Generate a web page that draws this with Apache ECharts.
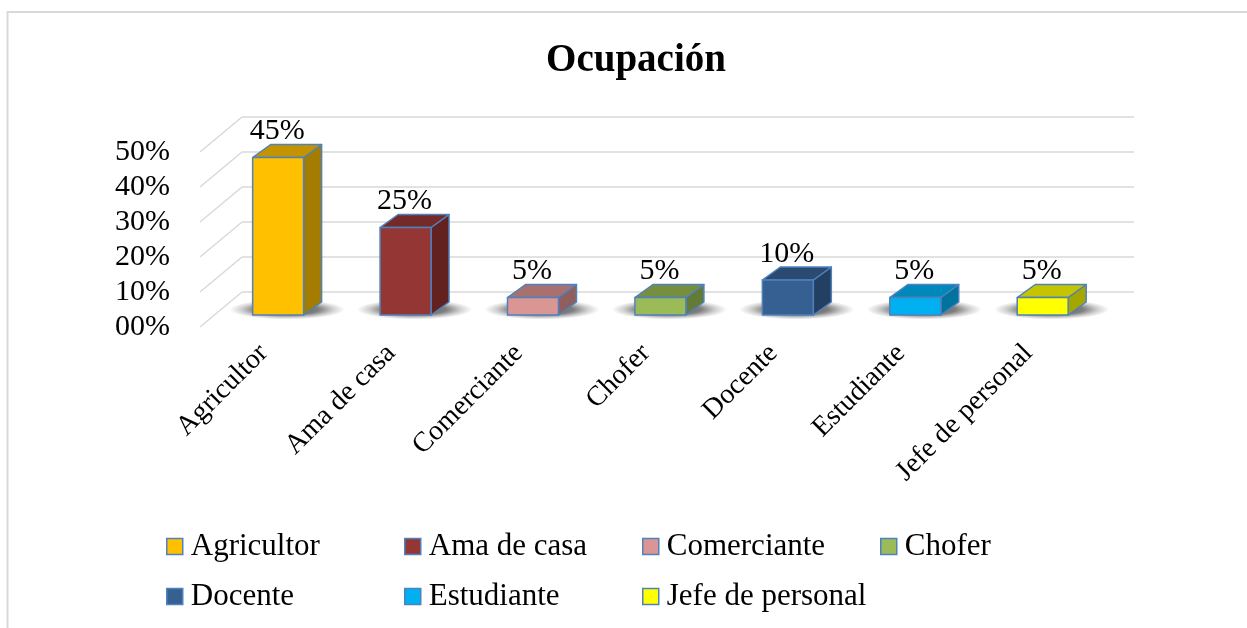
<!DOCTYPE html>
<html>
<head>
<meta charset="utf-8">
<script src="https://cdn.jsdelivr.net/npm/echarts@6/dist/echarts.min.js"></script>
<style>html,body{margin:0;padding:0;background:#fff;}#c{width:1247px;height:628px;}</style>
</head>
<body>
<div id="c"></div>
<script>
const categories = ['Agricultor', 'Ama de casa', 'Comerciante', 'Chofer', 'Docente', 'Estudiante', 'Jefe de personal'];
const values = [45, 25, 5, 5, 10, 5, 5];
const yTicks = [0, 10, 20, 30, 40, 50];
const frontColors = ['#FFC000', '#943634', '#DA9694', '#9BBB59', '#366092', '#00B0F0', '#FFFF00'];
const topColors   = ['#C49400', '#742A29', '#A8706E', '#768F3F', '#2A4A71', '#0088BA', '#C4C400'];
const sideColors  = ['#A47C00', '#62221F', '#8E5F5D', '#647B38', '#233F61', '#00739E', '#A6A600'];

// layout (pixels)
const BACK_LEFT = 242, BACK_TOP = 117, PLOT_W = 892, PLOT_H = 175;
const WALL_DX = 42, WALL_DY = 35, BAR_FRAC = 0.343, BAR_DX = 18, BAR_DY = 13;
const FRONT_LEFT = BACK_LEFT - WALL_DX, FRONT_TOP = BACK_TOP + WALL_DY;
const BAR_LEFT = FRONT_LEFT + BAR_FRAC * WALL_DX, BAR_TOP = FRONT_TOP - BAR_FRAC * WALL_DY;
const LEGEND_COLS = [166, 404, 642, 880], LEGEND_ROWS = [531, 581];
const FONT = '"Liberation Serif", "Times New Roman", serif';
const EDGE = '#4F81BD';

const chart = echarts.init(document.getElementById('c'), null, {renderer: 'canvas'});

function hiddenAxis(extra) {
  return Object.assign({
    axisLine: {show: false}, axisTick: {show: false}, axisLabel: {show: false}, splitLine: {show: false}
  }, extra);
}

function barRenderer(k) {
  return function (params, api) {
    const i = api.value(0), v = api.value(1);
    const base = api.coord([i, 0]);
    const top = api.coord([i, v]);
    const bw = api.size([1, 0])[0] * 0.4;
    const x0 = base[0] - bw / 2, x1 = base[0] + bw / 2, yB = base[1], yT = top[1];
    const stroke = {stroke: EDGE, lineWidth: 1.5, lineJoin: 'round'};
    const rx = bw / 2 + 32, ry = 10;
    return {
      type: 'group',
      children: [
        {
          type: 'circle',
          x: base[0] + BAR_DX / 2, y: yB - BAR_DY / 2 + 1,
          scaleX: rx / 10, scaleY: ry / 10,
          shape: {cx: 0, cy: 0, r: 10},
          style: {
            fill: new echarts.graphic.RadialGradient(0.5, 0.5, 0.5, [
              {offset: 0, color: 'rgba(0,0,0,0.65)'},
              {offset: 0.55, color: 'rgba(0,0,0,0.5)'},
              {offset: 0.8, color: 'rgba(0,0,0,0.18)'},
              {offset: 1, color: 'rgba(0,0,0,0)'}
            ])
          }
        },
        {
          type: 'polygon',
          shape: {points: [[x1, yT], [x1 + BAR_DX, yT - BAR_DY], [x1 + BAR_DX, yB - BAR_DY], [x1, yB]]},
          style: Object.assign({fill: sideColors[k]}, stroke)
        },
        {
          type: 'polygon',
          shape: {points: [[x0, yT], [x0 + BAR_DX, yT - BAR_DY], [x1 + BAR_DX, yT - BAR_DY], [x1, yT]]},
          style: Object.assign({fill: topColors[k]}, stroke)
        },
        {
          type: 'rect',
          shape: {x: x0, y: yT, width: bw, height: yB - yT},
          style: Object.assign({fill: frontColors[k]}, stroke)
        },
        {
          type: 'text',
          x: base[0] - 1, y: yT - 11,
          style: {text: v + '%', align: 'center', verticalAlign: 'bottom', fill: '#000', font: '30px ' + FONT}
        }
      ]
    };
  };
}

const barSeries = categories.map((name, k) => ({
  type: 'custom',
  name: name,
  xAxisIndex: 0, yAxisIndex: 0,
  itemStyle: {color: frontColors[k], borderColor: EDGE, borderWidth: 1.5},
  renderItem: barRenderer(k),
  data: [[k, values[k]]],
  z: 10
}));

const wallSeries = {
  type: 'custom',
  name: 'wall',
  xAxisIndex: 2, yAxisIndex: 2,
  silent: true,
  renderItem: function (params, api) {
    const p = api.coord([0, api.value(1)]);
    const x = params.coordSys.x;
    return {
      type: 'line',
      shape: {x1: x - WALL_DX, y1: p[1] + WALL_DY, x2: x, y2: p[1]},
      style: {stroke: '#D9D9D9', lineWidth: 1.5}
    };
  },
  data: yTicks.map(t => [0, t]),
  z: 1
};

const legends = categories.map((name, k) => ({
  orient: 'horizontal', icon: 'rect', itemWidth: 16, itemHeight: 16, itemGap: 0, padding: 0,
  itemStyle: {borderColor: EDGE, borderWidth: 1.5},
  textStyle: {fontFamily: FONT, fontSize: 31, color: '#000', padding: [0, 0, 0, 3]},
  selectedMode: false,
  left: LEGEND_COLS[k % 4], top: LEGEND_ROWS[Math.floor(k / 4)],
  data: [name]
}));

chart.setOption({
  animation: false,
  backgroundColor: '#fff',
  title: {
    text: 'Ocupación', left: 631, top: 36, textAlign: 'center',
    textStyle: {fontFamily: FONT, fontSize: 39, fontWeight: 'bold', color: '#000'}
  },
  graphic: [{
    type: 'rect', shape: {x: 7.5, y: 12, width: 1300, height: 700},
    style: {fill: 'none', stroke: '#D9D9D9', lineWidth: 2}, silent: true, z: -10
  }],
  grid: [
    {left: BAR_LEFT, top: BAR_TOP, width: PLOT_W, height: PLOT_H},
    {left: FRONT_LEFT, top: FRONT_TOP, width: PLOT_W, height: PLOT_H},
    {left: BACK_LEFT, top: BACK_TOP, width: PLOT_W, height: PLOT_H}
  ],
  xAxis: [
    hiddenAxis({type: 'category', data: categories, gridIndex: 0}),
    {
      type: 'category', data: categories, gridIndex: 1,
      axisLine: {show: false}, axisTick: {show: false}, splitLine: {show: false},
      axisLabel: {rotate: 45, margin: 22, fontFamily: FONT, fontSize: 28, color: '#000', interval: 0}
    },
    hiddenAxis({type: 'category', data: categories, gridIndex: 2})
  ],
  yAxis: [
    hiddenAxis({type: 'value', min: 0, max: 50, interval: 10, gridIndex: 0}),
    {
      type: 'value', min: 0, max: 50, interval: 10, gridIndex: 1,
      axisLine: {show: false}, axisTick: {show: false}, splitLine: {show: false},
      axisLabel: {
        margin: 30, fontFamily: FONT, fontSize: 30, color: '#000',
        formatter: v => (v < 10 ? '0' : '') + v + '%'
      }
    },
    {
      type: 'value', min: 0, max: 50, interval: 10, gridIndex: 2,
      axisLine: {show: false}, axisTick: {show: false}, axisLabel: {show: false},
      splitLine: {show: true, lineStyle: {color: '#D9D9D9', width: 1.5}}
    }
  ],
  legend: legends,
  series: [wallSeries].concat(barSeries)
});
</script>
</body>
</html>
